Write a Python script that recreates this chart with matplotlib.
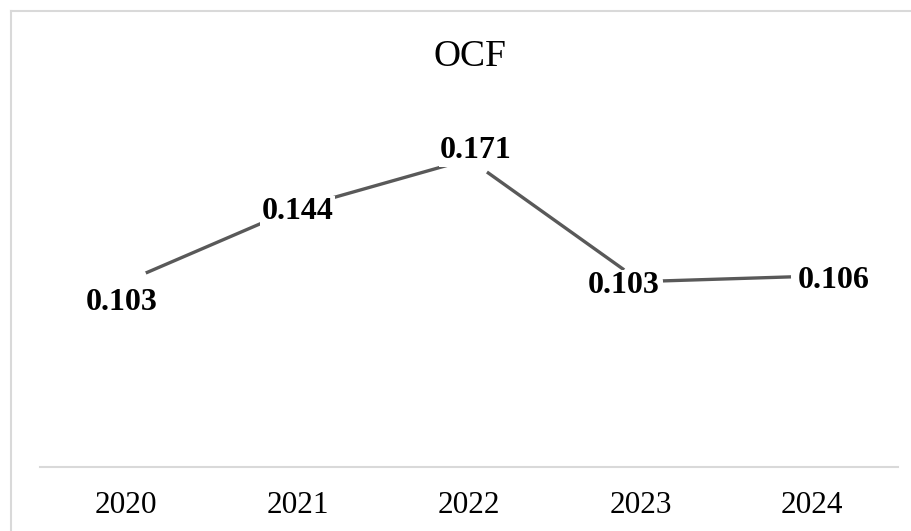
import matplotlib
matplotlib.use("Agg")
import matplotlib.pyplot as plt
from matplotlib.lines import Line2D

years = ["2020", "2021", "2022", "2023", "2024"]
ocf = [0.103, 0.144, 0.171, 0.103, 0.106]
title = "OCF"

# label placement relative to each point (pixels: right, down to baseline)
label_shift_px = [(-4, 28.5), (0, 11.5), (7, -1), (-17, 11.5), (21, 11.5)]

plt.rcParams["font.family"] = ["Liberation Serif", "DejaVu Serif"]

W, H, DPI = 912, 531, 100
fig = plt.figure(figsize=(W / DPI, H / DPI), dpi=DPI)
fig.patch.set_facecolor("white")

# plot area in pixel coordinates
left_px, right_px, bottom_px, top_px = 40, 898, 467, 107
ax = fig.add_axes([left_px / W, 1 - bottom_px / H,
                   (right_px - left_px) / W, (bottom_px - top_px) / H])

x = list(range(len(years)))
ax.plot(x, ocf, color="#595959", lw=2.4, solid_capstyle="butt",
        marker="o", markersize=31, markerfacecolor="white",
        markeredgecolor="none", zorder=2)

px2pt = 72 / DPI
for xi, v, (dx, dy) in zip(x, ocf, label_shift_px):
    ax.annotate(f"{v:.3f}", xy=(xi, v), xytext=(dx * px2pt, -dy * px2pt),
                textcoords="offset points", ha="center", va="baseline",
                fontsize=23, fontweight="bold", color="black", zorder=4,
                bbox=dict(boxstyle="square,pad=0.05", fc="white", ec="none"))

ax.set_xlim(-0.5, len(years) - 0.5)
ax.set_ylim(0, 0.2)
ax.set_xticks(x)
ax.set_xticklabels(years, fontsize=22.5)
ax.set_yticks([])
ax.tick_params(axis="x", length=0, pad=17, colors="black")
for side in ("left", "right", "top"):
    ax.spines[side].set_visible(False)
ax.spines["bottom"].set_color("#d9d9d9")
ax.spines["bottom"].set_linewidth(1.5)
ax.set_facecolor("none")

fig.text(469.5 / W, 1 - 66 / H, title, ha="center", va="baseline",
         fontsize=27, color="black")

# outer chart frame (continues past the right and bottom edges)
frame_c = "#d9d9d9"
fig.add_artist(Line2D([11 / W, 11 / W], [-0.05, 1 - 11 / H],
                      transform=fig.transFigure, color=frame_c, lw=1.5))
fig.add_artist(Line2D([11 / W, 1.05], [1 - 11 / H, 1 - 11 / H],
                      transform=fig.transFigure, color=frame_c, lw=1.5))

fig.savefig("out.png", dpi=DPI, facecolor="white")
